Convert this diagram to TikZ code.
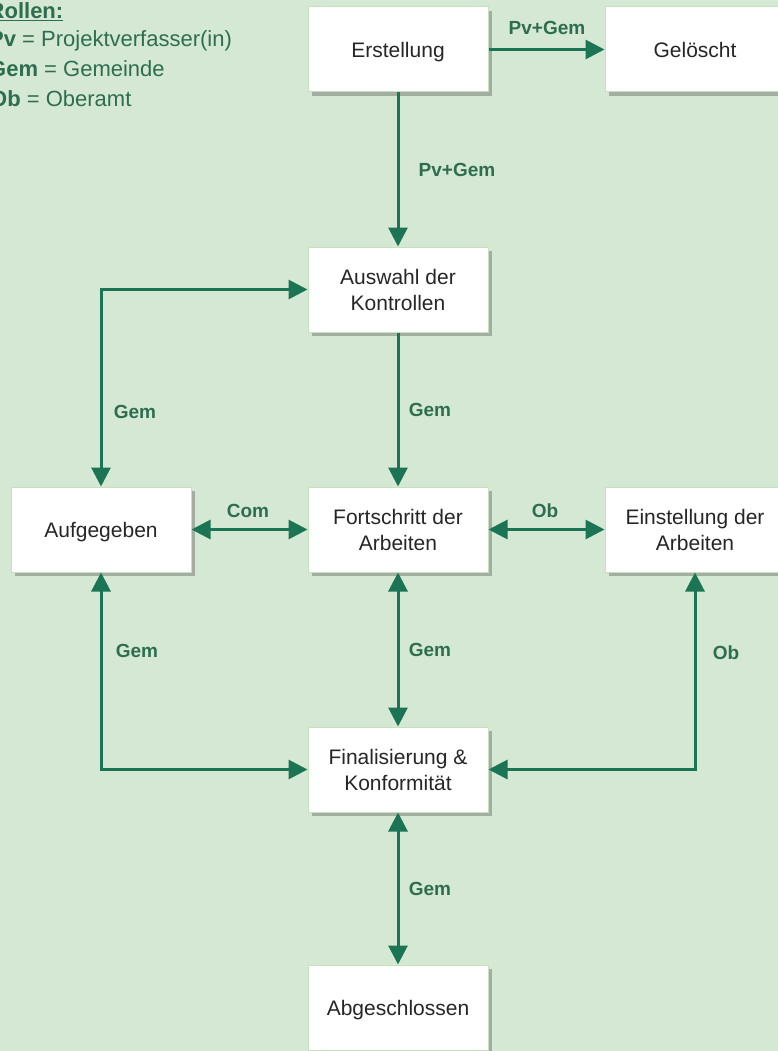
\documentclass[tikz,border=0pt]{standalone}
\usepackage{fontspec}
\setmainfont{Liberation Sans}
\usetikzlibrary{arrows.meta,shadows}
\definecolor{bg}{HTML}{D5E8D4}
\definecolor{arr}{HTML}{1B7453}
\definecolor{lbl}{HTML}{2E6E50}
\definecolor{boxline}{HTML}{C4E3BC}
\definecolor{shd}{HTML}{A3ADA2}
\begin{document}
\begin{tikzpicture}[x=1pt,y=-1pt,
  state/.style={draw=boxline, line width=1pt, fill=white, minimum width=180pt, minimum height=85pt, align=center, font=\fontsize{21}{26}\selectfont, text=black!85, general shadow={fill=shd, shadow xshift=4pt, shadow yshift=-4pt}, inner sep=0pt},
  oneline/.style={text depth=0pt},
  conn/.style={draw=arr, line width=3pt, arrows={-Triangle[length=19pt,width=19pt]}},
  bidi/.style={draw=arr, line width=3pt, arrows={Triangle[length=19pt,width=19pt]-Triangle[length=19pt,width=19pt]}},
  lab/.style={text=lbl, font=\fontsize{19}{22}\selectfont\bfseries, inner sep=0pt},
  leg/.style={text=lbl, font=\fontsize{22}{26}\selectfont, inner sep=0pt, anchor=base west}
]
\useasboundingbox (0,0) rectangle (778,1051);
\clip (0,0) rectangle (778,1051);
\fill[bg] (0,0) rectangle (778,1051);

% legend
\node[leg] (leg1) at (-11.5,19) {\textbf{\underline{Rollen:}}};
\node[leg] (leg2) at (-11,47) {\textbf{Pv} = Projektverfasser(in)};
\node[leg] (leg3) at (-11,77) {\textbf{Gem} = Gemeinde};
\node[leg] (leg4) at (-10,107) {\textbf{Ob} = Oberamt};

% states
\node[state,oneline] (erst) at (398,49.5) {Erstellung};
\node[state,oneline] (gel) at (695,49.5) {Gelöscht};
\node[state] (ausw) at (398,289.5) {Auswahl der\\Kontrollen};
\node[state,oneline] (aufg) at (101,529.5) {Aufgegeben};
\node[state] (fort) at (398,529.5) {Fortschritt der\\Arbeiten};
\node[state] (einst) at (695,529.5) {Einstellung der\\Arbeiten};
\node[state] (fin) at (398,769.5) {Finalisierung \&\\Konformität};
\node[state,oneline] (abg) at (398,1007.5) {Abgeschlossen};

% connectors
\draw[conn] (erst) -- (gel);
\draw[conn] (erst) -- (ausw);
\draw[bidi] (aufg.north) |- (ausw.west);
\draw[conn] (ausw) -- (fort);
\draw[bidi] (aufg) -- (fort);
\draw[bidi] (fort) -- (einst);
\draw[bidi] (fort) -- (fin);
\draw[bidi] (aufg.south) |- (fin.west);
\draw[bidi] (einst.south) |- (fin.east);
\draw[bidi] (fin) -- (abg);

% labels
\node[lab] (l1) at (547,28) {Pv+Gem};
\node[lab] (l2) at (457,170) {Pv+Gem};
\node[lab] (l3) at (135,412) {Gem};
\node[lab] (l4) at (430,410) {Gem};
\node[lab] (l5) at (248,511) {Com};
\node[lab] (l6) at (545,511) {Ob};
\node[lab] (l7) at (430,650) {Gem};
\node[lab] (l8) at (137,651) {Gem};
\node[lab] (l9) at (726,653) {Ob};
\node[lab] (l10) at (430,889) {Gem};
\end{tikzpicture}
\end{document}
